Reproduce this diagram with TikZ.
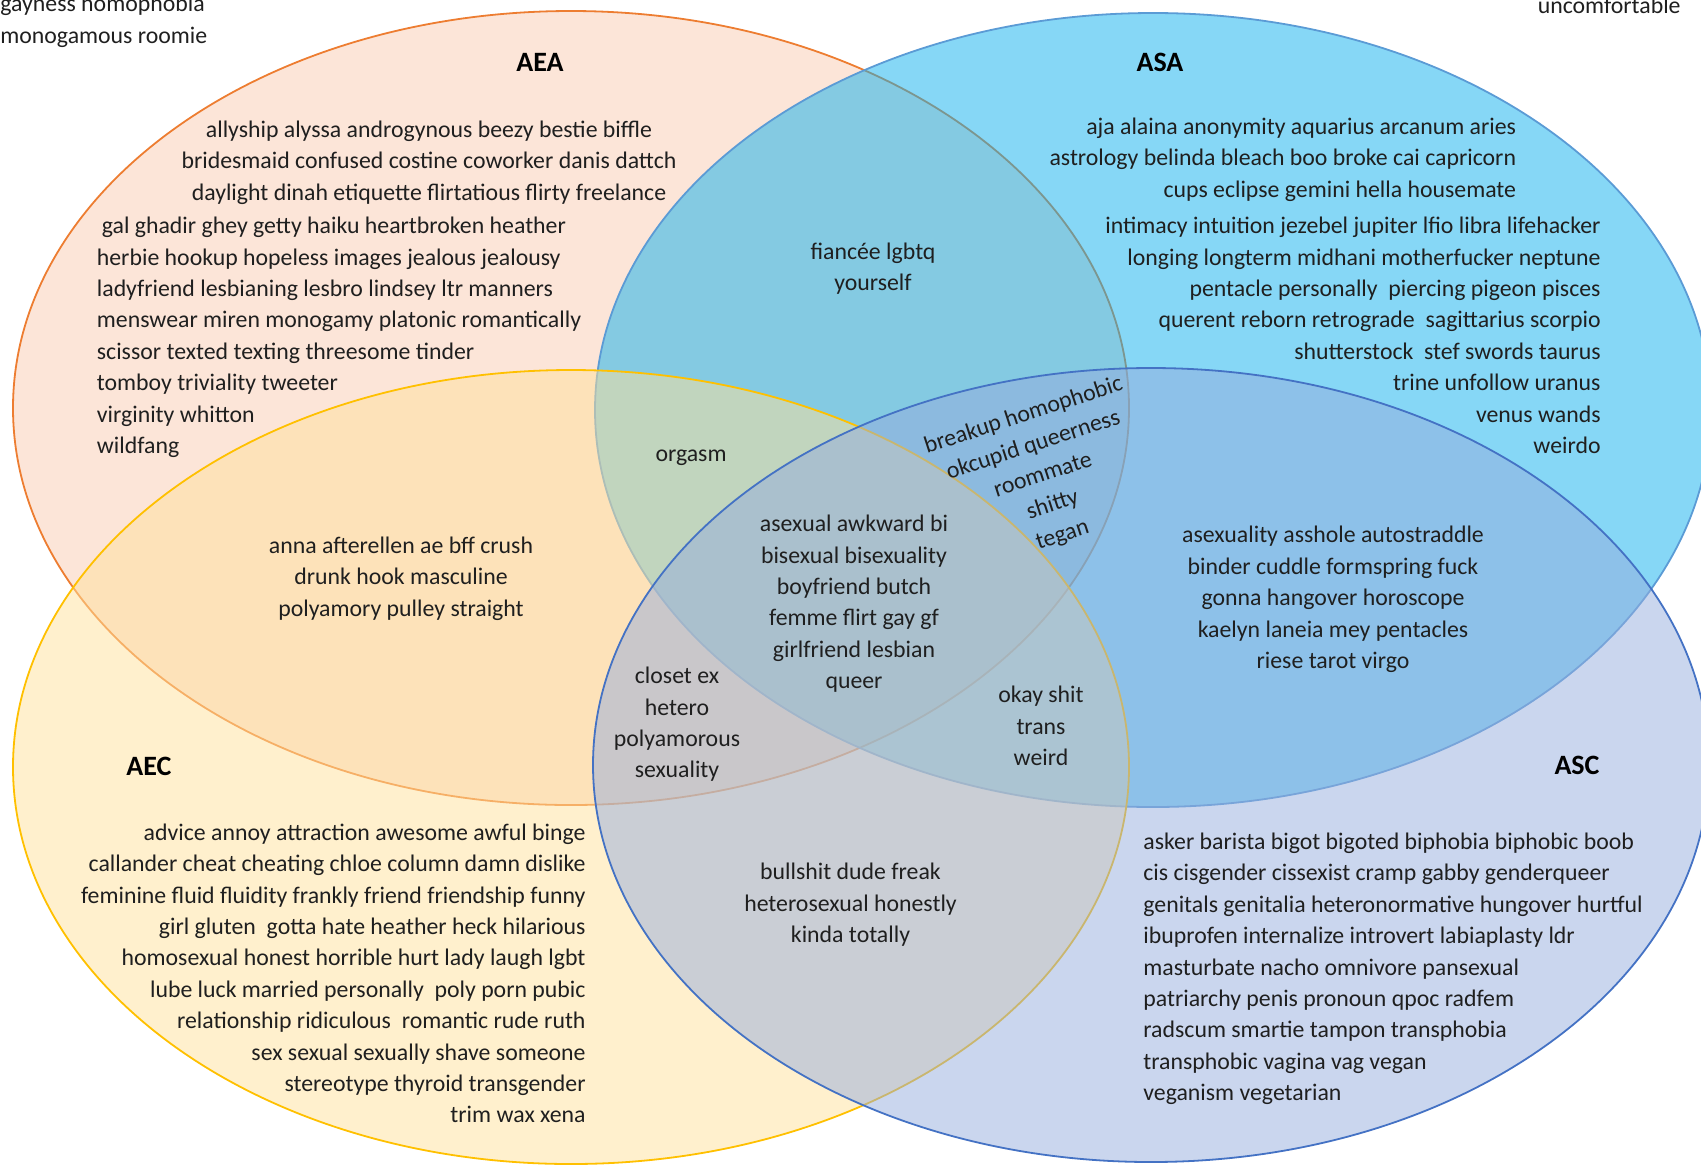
\documentclass[tikz,border=0pt]{standalone}
\usepackage{fontspec}
\setmainfont{Carlito}
\usepackage{tikz}
\usepackage{xcolor}
\definecolor{aeaFill}{RGB}{249,203,177}
\definecolor{aeaLine}{RGB}{237,125,49}
\definecolor{asaFill}{RGB}{13,175,237}
\definecolor{asaLine}{RGB}{91,155,213}
\definecolor{aecFill}{RGB}{255,225,155}
\definecolor{aecLine}{RGB}{255,192,0}
\definecolor{ascFill}{RGB}{149,173,221}
\definecolor{ascLine}{RGB}{68,114,196}

\begin{document}
\begin{tikzpicture}[
  x=0.5pt, y=-0.5pt,
  set/.style={line width=0.9pt, fill opacity=0.5},
  word/.style={
    inner sep=0pt, text=black!88, yshift=-1.2pt,
    font=\fontsize{11.9}{15.7}\selectfont
  },
  words/.style={word, align=center},
  wordsl/.style={word, align=left, anchor=west},
  wordsr/.style={word, align=right, anchor=east},
  title/.style={inner sep=0pt, font=\fontsize{14}{16}\selectfont\bfseries}
]
\useasboundingbox (0,0) rectangle (1701,1164);
\clip (0,0) rectangle (1701,1164);

\draw[set, draw=aeaLine, fill=aeaFill] (571,408) ellipse [x radius=279pt, y radius=198.5pt];
\draw[set, draw=asaLine, fill=asaFill] (1153,410) ellipse [x radius=279pt, y radius=198.5pt];
\draw[set, draw=aecLine, fill=aecFill] (571,767) ellipse [x radius=279pt, y radius=198.5pt];
\draw[set, draw=ascLine, fill=ascFill] (1151,765) ellipse [x radius=279pt, y radius=198.5pt];

\node[title] (aea) at (540,62) {AEA};
\node[title] (asa) at (1160,62) {ASA};
\node[title] (aec) at (149,766) {AEC};
\node[title] (asc) at (1577,765) {ASC};

\node[wordsl] (corner) at (0,19) {gayness homophobia\\monogamous roomie};
\node[wordsr] (uncomf) at (1681,3) {uncomfortable};

\node[words] (aeaTop) at (429,160) {allyship alyssa androgynous beezy bestie biffle\\
  bridesmaid confused costine coworker danis dattch\\
  daylight dinah etiquette flirtatious flirty freelance};
\node[wordsl] (aeaLeft) at (96.5,335) {\hspace*{2.5pt}gal ghadir ghey getty haiku heartbroken heather\\
  herbie hookup hopeless images jealous jealousy\\
  ladyfriend lesbianing lesbro lindsey ltr manners\\
  menswear miren monogamy platonic romantically\\
  scissor texted texting threesome tinder\\
  tomboy triviality tweeter\\
  virginity whitton\\
  wildfang};

\node[wordsr] (asaTop) at (1516.5,157) {aja alaina anonymity aquarius arcanum aries\\
  astrology belinda bleach boo broke cai capricorn\\
  cups eclipse gemini hella housemate};
\node[wordsr] (asaRight) at (1601,333) {intimacy intuition jezebel jupiter lfio libra lifehacker\\
  longing longterm midhani motherfucker neptune\\
  pentacle personally\ \ piercing pigeon pisces\\
  querent reborn retrograde\ \ sagittarius scorpio\\
  shutterstock\ \ stef swords taurus\\
  trine unfollow uranus\\
  venus wands\\
  weirdo};

\node[words] (aeaAsa) at (873,266) {fiancée lgbtq\\yourself};
\node[words] (aeaAec) at (401,576) {anna afterellen ae bff crush\\drunk hook masculine\\polyamory pulley straight};
\node[words] (orgasm) at (691,455) {orgasm};
\node[words, rotate=18] (aeaAsaAsc) at (1043,473) {breakup homophobic\\okcupid queerness\\roommate\\shitty\\tegan};
\node[words] (all) at (854,601.5) {asexual awkward bi\\bisexual bisexuality\\boyfriend butch\\femme flirt gay gf\\girlfriend lesbian\\queer};
\node[words] (asaAsc) at (1333,597) {asexuality asshole autostraddle\\binder cuddle formspring fuck\\gonna hangover horoscope\\kaelyn laneia mey pentacles\\riese tarot virgo};
\node[words] (aeaAecAsc) at (677,722) {closet ex\\hetero\\polyamorous\\sexuality};
\node[words] (asaAecAsc) at (1041,723.5) {okay shit\\trans\\weird};
\node[words] (aecAsc) at (850.5,902.5) {bullshit dude freak\\heterosexual honestly\\kinda totally};

\node[wordsr] (aecList) at (586,971) {advice annoy attraction awesome awful binge\\
  callander cheat cheating chloe column damn dislike\\
  feminine fluid fluidity frankly friend friendship funny\\
  girl gluten\ \ gotta hate heather heck hilarious\\
  homosexual honest horrible hurt lady laugh lgbt\\
  lube luck married personally\ \ poly porn pubic\\
  relationship ridiculous\ \ romantic rude ruth\\
  sex sexual sexually shave someone\\
  stereotype thyroid transgender\\
  trim wax xena};
\node[wordsl] (ascList) at (1143,966.5) {asker barista bigot bigoted biphobia biphobic boob\\
  cis cisgender cissexist cramp gabby genderqueer\\
  genitals genitalia heteronormative hungover hurtful\\
  ibuprofen internalize introvert labiaplasty ldr\\
  masturbate nacho omnivore pansexual\\
  patriarchy penis pronoun qpoc radfem\\
  radscum smartie tampon transphobia\\
  transphobic vagina vag vegan\\
  veganism vegetarian};
\end{tikzpicture}
\end{document}
